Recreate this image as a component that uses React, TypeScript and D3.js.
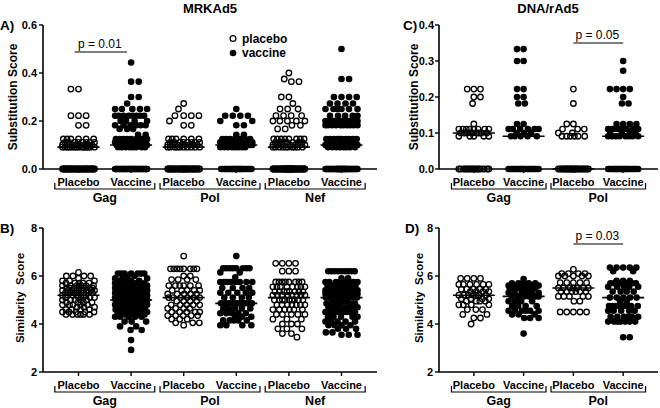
import React from "react";
import * as d3 from "d3";

type Pair = [number, number]; // [value, number of dots at it]

const armLabels = ["Placebo", "Vaccine"];
const mrkGenes = ["Gag", "Pol", "Nef"];
const dnaGenes = ["Gag", "Pol"];
const subTicksA = [0, 0.2, 0.4, 0.6];
const subTicksC = [0, 0.1, 0.2, 0.3, 0.4];
const simTicks = [2, 4, 6, 8];

// A) MRKAd5 substitution score
const aGagPlacebo: Pair[] = [[0.333, 2], [0.222, 3], [0.182, 2], [0.125, 6], [0.111, 8], [0.1, 8], [0.091, 14], [0, 35]];
const aGagVaccine: Pair[] = [[0.444, 1], [0.364, 2], [0.3, 2], [0.273, 1], [0.25, 5], [0.222, 8], [0.2, 4], [0.182, 6], [0.167, 3], [0.143, 2], [0.125, 8], [0.111, 10], [0.1, 10], [0.091, 8], [0, 36]];
const aPolPlacebo: Pair[] = [[0.273, 1], [0.25, 1], [0.222, 4], [0.2, 1], [0.182, 2], [0.125, 6], [0.111, 8], [0.1, 8], [0.091, 10], [0, 32]];
const aPolVaccine: Pair[] = [[0.25, 1], [0.222, 4], [0.2, 2], [0.182, 2], [0.143, 2], [0.125, 8], [0.111, 10], [0.1, 10], [0.091, 8], [0, 24]];
const aNefPlacebo: Pair[] = [[0.4, 1], [0.375, 1], [0.364, 2], [0.3, 2], [0.273, 1], [0.25, 3], [0.222, 4], [0.2, 5], [0.182, 2], [0.167, 2], [0.125, 8], [0.111, 7], [0.1, 7], [0.091, 10], [0, 45]];
const aNefVaccine: Pair[] = [[0.5, 1], [0.375, 2], [0.3, 4], [0.273, 4], [0.25, 6], [0.222, 5], [0.2, 10], [0.182, 10], [0.125, 10], [0.111, 5], [0.1, 8], [0.091, 8], [0, 45]];

// B) MRKAd5 similarity score
const bGagPlacebo: Pair[] = [[6.15, 1], [6.0, 4], [5.9, 1], [5.8, 3], [5.7, 5], [5.6, 6], [5.5, 7], [5.4, 8], [5.3, 7], [5.2, 6], [5.1, 5], [5.0, 5], [4.9, 4], [4.8, 5], [4.7, 3], [4.6, 4], [4.5, 5], [4.4, 6]];
const bGagVaccine: Pair[] = [[6.1, 7], [6.0, 2], [5.9, 3], [5.8, 4], [5.7, 4], [5.6, 5], [5.5, 6], [5.4, 6], [5.3, 6], [5.2, 6], [5.1, 8], [5.0, 12], [4.9, 7], [4.8, 6], [4.7, 5], [4.6, 4], [4.5, 6], [4.4, 4], [4.3, 5], [4.1, 3], [3.9, 2], [3.75, 2], [3.33, 1], [2.92, 1]];
const bPolPlacebo: Pair[] = [[6.83, 1], [6.3, 8], [6.0, 2], [5.85, 4], [5.6, 6], [5.4, 5], [5.25, 5], [5.1, 6], [4.95, 4], [4.8, 5], [4.65, 4], [4.5, 5], [4.35, 5], [4.2, 3], [4.05, 3], [3.95, 1]];
const bPolVaccine: Pair[] = [[6.83, 1], [6.32, 8], [6.15, 2], [5.95, 1], [5.75, 8], [5.5, 4], [5.3, 5], [5.1, 4], [4.86, 12], [4.65, 5], [4.45, 5], [4.3, 3], [4.15, 5], [3.95, 4]];
const bNefPlacebo: Pair[] = [[6.53, 4], [6.2, 3], [5.75, 8], [5.55, 8], [5.35, 8], [5.2, 8], [5.0, 9], [4.8, 7], [4.6, 6], [4.4, 5], [4.2, 3], [4.0, 3], [3.8, 3], [3.6, 2], [3.45, 1]];
const bNefVaccine: Pair[] = [[6.2, 9], [5.9, 2], [5.75, 8], [5.6, 8], [5.4, 10], [5.25, 10], [5.1, 8], [4.95, 4], [4.85, 6], [4.7, 8], [4.5, 8], [4.3, 5], [4.1, 5], [3.95, 4], [3.8, 3], [3.65, 2], [3.55, 3]];

// C) DNA/rAd5 substitution score
const cGagPlacebo: Pair[] = [[0.222, 3], [0.2, 2], [0.182, 1], [0.125, 1], [0.111, 8], [0.1, 8], [0.091, 5], [0, 16]];
const cGagVaccine: Pair[] = [[0.333, 2], [0.3, 2], [0.222, 2], [0.2, 2], [0.182, 2], [0.125, 2], [0.111, 6], [0.1, 3], [0.091, 5], [0, 20]];
const cPolPlacebo: Pair[] = [[0.222, 1], [0.182, 1], [0.125, 2], [0.111, 3], [0.1, 2], [0.091, 6], [0, 22]];
const cPolVaccine: Pair[] = [[0.3, 1], [0.273, 1], [0.222, 4], [0.2, 1], [0.182, 2], [0.125, 4], [0.111, 8], [0.1, 4], [0.091, 8], [0, 22]];

// D) DNA/rAd5 similarity score
const dGagPlacebo: Pair[] = [[5.9, 4], [5.65, 6], [5.45, 5], [5.35, 4], [5.2, 7], [5.05, 4], [4.95, 4], [4.8, 4], [4.6, 3], [4.4, 2], [4.25, 2], [4.0, 1]];
const dGagVaccine: Pair[] = [[5.875, 1], [5.7, 5], [5.6, 5], [5.5, 7], [5.3, 6], [5.15, 6], [4.95, 4], [4.75, 4], [4.55, 6], [4.4, 3], [4.25, 3], [3.6, 1]];
const dPolPlacebo: Pair[] = [[6.28, 1], [6.1, 4], [6.0, 5], [5.72, 5], [5.5, 7], [5.35, 6], [5.15, 5], [4.95, 2], [4.5, 5]];
const dPolVaccine: Pair[] = [[6.35, 5], [6.2, 2], [5.8, 3], [5.7, 7], [5.55, 5], [5.35, 4], [5.1, 5], [4.95, 2], [4.75, 8], [4.55, 5], [4.3, 6], [4.1, 7], [3.45, 2]];

const FONT = "'Liberation Sans', Arial, Helvetica, sans-serif";

function expand(pairs: Pair[]): number[] {
  const out: number[] = [];
  for (const [v, n] of pairs) for (let i = 0; i < n; i++) out.push(v);
  return out;
}

function swarm(values: number[], y: (v: number) => number, diam: number, maxW: number) {
  const sorted = [...values].sort((a, b) => b - a);
  const placed: { x: number; y: number }[] = [];
  const d2 = diam * diam;
  sorted.forEach((v, k) => {
    const py = y(v);
    const near = placed.filter((p) => Math.abs(p.y - py) < diam);
    const cands = [0];
    for (const p of near) {
      const dx = Math.sqrt(d2 - (p.y - py) ** 2);
      cands.push(p.x - dx, p.x + dx);
    }
    const ok = cands.filter(
      (c) => Math.abs(c) <= maxW + 1e-6 && near.every((p) => (p.x - c) ** 2 + (p.y - py) ** 2 >= d2 - 1e-6)
    );
    let best = 0;
    if (ok.length) {
      ok.sort((a, b) => Math.abs(a) - Math.abs(b) || (k % 2 ? a - b : b - a));
      best = ok[0];
    } else {
      let bestScore = -Infinity;
      for (let c = -maxW; c <= maxW + 1e-6; c += 0.5) {
        let m = Infinity;
        for (const p of near) m = Math.min(m, Math.hypot(p.x - c, p.y - py));
        const s = m - 0.002 * Math.abs(c);
        if (s > bestScore) {
          bestScore = s;
          best = c;
        }
      }
    }
    placed.push({ x: best, y: py });
  });
  return placed;
}

type PanelProps = {
  left: number;
  right: number;
  top: number;
  bottom: number;
  padding: number;
  domain: [number, number];
  ticks: number[];
  genes: string[];
  series: Pair[][];
  letter: string;
  letterX: number;
  ylabel: string;
  ylabelX: number;
  ylabelY: number;
  maxW: number;
  diam: number;
  labelGap: number;
  pval?: { text: string; i0: number; i1: number; lineY: number; shift: number };
};

function Panel(props: PanelProps) {
  const { left, right, top, bottom, padding, domain, ticks, genes, series, letter, letterX, ylabel, ylabelX, ylabelY, maxW, diam, labelGap, pval } = props;
  const x = d3.scalePoint<number>().domain(d3.range(series.length)).range([left, right]).padding(padding);
  const y = d3.scaleLinear().domain(domain).range([bottom, top]);
  const step = x.step();
  const fmt = domain[1] > 1 ? d3.format("d") : d3.format(".1f");
  return (
    <g fontFamily={FONT}>
      <text x={letterX} y={top + 5} fontSize={13.5} fontWeight="bold">{letter}</text>
      <text
        transform={`translate(${ylabelX},${ylabelY}) rotate(-90)`}
        textAnchor="middle"
        fontSize={ylabel.startsWith("Sim") ? 11.5 : 12}
        fontWeight="bold"
        style={{ whiteSpace: "pre" }}
      >
        {ylabel}
      </text>
      {/* y axis */}
      <line x1={left} x2={left} y1={top} y2={bottom} stroke="#000" strokeWidth={1.6} />
      {ticks.map((t) => (
        <g key={t}>
          <line x1={left - 4} x2={left} y1={y(t)} y2={y(t)} stroke="#000" strokeWidth={1.4} />
          <text x={left - labelGap} y={y(t)} dy="0.35em" textAnchor="end" fontSize={11} fontWeight="bold">
            {fmt(t)}
          </text>
        </g>
      ))}
      {/* x axis */}
      <line x1={left} x2={right} y1={bottom} y2={bottom} stroke="#000" strokeWidth={1.6} />
      {series.map((_, i) => (
        <g key={i}>
          <line x1={x(i)!} x2={x(i)!} y1={bottom} y2={bottom + 4} stroke="#000" strokeWidth={1.4} />
          <text x={x(i)!} y={bottom + 17} textAnchor="middle" fontSize={11} fontWeight="bold">
            {armLabels[i % 2]}
          </text>
        </g>
      ))}
      {genes.map((g, gi) => {
        const cx = (x(2 * gi)! + x(2 * gi + 1)!) / 2;
        const half = step * 0.95;
        return (
          <g key={g}>
            <path
              d={`M${cx - half},${bottom + 14}V${bottom + 20}H${cx + half}V${bottom + 14}`}
              fill="none"
              stroke="#000"
              strokeWidth={1.2}
            />
            <text x={cx} y={bottom + 33} textAnchor="middle" fontSize={12.5} fontWeight="bold">
              {g}
            </text>
          </g>
        );
      })}
      {/* dots */}
      {series.map((pairs, i) => {
        const vals = expand(pairs);
        const pts = swarm(vals, (v) => y(v), diam, maxW);
        const med = d3.median(vals)!;
        const cx = x(i)!;
        const open = i % 2 === 0;
        return (
          <g key={"s" + i}>
            {pts.map((p, j) =>
              open ? (
                <circle key={j} cx={cx + p.x} cy={p.y} r={2.75} fill="none" stroke="#000" strokeWidth={1.3} />
              ) : (
                <circle key={j} cx={cx + p.x} cy={p.y} r={3.3} fill="#000" />
              )
            )}
            <line x1={cx - 21} x2={cx + 21} y1={y(med)} y2={y(med)} stroke="#000" strokeWidth={1.6} />
          </g>
        );
      })}
      {pval && (
        <g>
          <line
            x1={x(pval.i0)! + pval.shift}
            x2={x(pval.i1)! + pval.shift}
            y1={pval.lineY}
            y2={pval.lineY}
            stroke="#000"
            strokeWidth={1.2}
          />
          <text
            x={(x(pval.i0)! + x(pval.i1)!) / 2 + pval.shift - 1}
            y={pval.lineY - 4}
            textAnchor="middle"
            fontSize={12}
          >
            {pval.text}
          </text>
        </g>
      )}
    </g>
  );
}

export default function App() {
  return (
    <svg
      width={660}
      height={408}
      viewBox="0 0 660 408"
      style={{ position: "absolute", left: 0, top: 0, background: "#fff" }}
    >
      <rect width={660} height={408} fill="#fff" />
      <text x={210} y={13} textAnchor="middle" fontFamily={FONT} fontSize={13} fontWeight="bold">MRKAd5</text>
      <text x={548} y={13} textAnchor="middle" fontFamily={FONT} fontSize={13} fontWeight="bold">DNA/rAd5</text>
      <Panel
        left={43}
        right={377}
        top={25}
        bottom={169}
        padding={0.675}
        domain={[0, 0.6]}
        ticks={subTicksA}
        genes={mrkGenes}
        series={[aGagPlacebo, aGagVaccine, aPolPlacebo, aPolVaccine, aNefPlacebo, aNefVaccine]}
        letter="A)"
        letterX={0}
        ylabel="Substitution Score"
        ylabelX={16.5}
        ylabelY={97}
        maxW={16}
        diam={7.6}
        labelGap={6}
        pval={{ text: "p = 0.01", i0: 0, i1: 1, lineY: 52, shift: -4 }}
      />
      <Panel
        left={43}
        right={377}
        top={228}
        bottom={372}
        padding={0.675}
        domain={[2, 8]}
        ticks={simTicks}
        genes={mrkGenes}
        series={[bGagPlacebo, bGagVaccine, bPolPlacebo, bPolVaccine, bNefPlacebo, bNefVaccine]}
        letter="B)"
        letterX={0}
        ylabel="Similarity  Score"
        ylabelX={23.8}
        ylabelY={298}
        maxW={16}
        diam={6.6}
        labelGap={6}
      />
      <Panel
        left={439}
        right={658}
        top={25}
        bottom={169}
        padding={0.7}
        domain={[0, 0.4]}
        ticks={subTicksC}
        genes={dnaGenes}
        series={[cGagPlacebo, cGagVaccine, cPolPlacebo, cPolVaccine]}
        letter="C)"
        letterX={403}
        ylabel="Substitution Score"
        ylabelX={417.8}
        ylabelY={97}
        maxW={15}
        diam={6.6}
        labelGap={5}
        pval={{ text: "p = 0.05", i0: 2, i1: 3, lineY: 43, shift: 0 }}
      />
      <Panel
        left={439}
        right={658}
        top={228}
        bottom={372}
        padding={0.7}
        domain={[2, 8]}
        ticks={simTicks}
        genes={dnaGenes}
        series={[dGagPlacebo, dGagVaccine, dPolPlacebo, dPolVaccine]}
        letter="D)"
        letterX={405}
        ylabel="Similarity  Score"
        ylabelX={422.8}
        ylabelY={298}
        maxW={15}
        diam={6.6}
        labelGap={6}
        pval={{ text: "p = 0.03", i0: 2, i1: 3, lineY: 244, shift: 0 }}
      />
      {/* legend */}
      <g fontFamily={FONT} fontSize={12} fontWeight="bold">
        <circle cx={233} cy={38.5} r={2.9} fill="none" stroke="#000" strokeWidth={1.3} />
        <text x={242} y={42.5}>placebo</text>
        <circle cx={233} cy={53} r={3.3} fill="#000" />
        <text x={242} y={57}>vaccine</text>
      </g>
    </svg>
  );
}
